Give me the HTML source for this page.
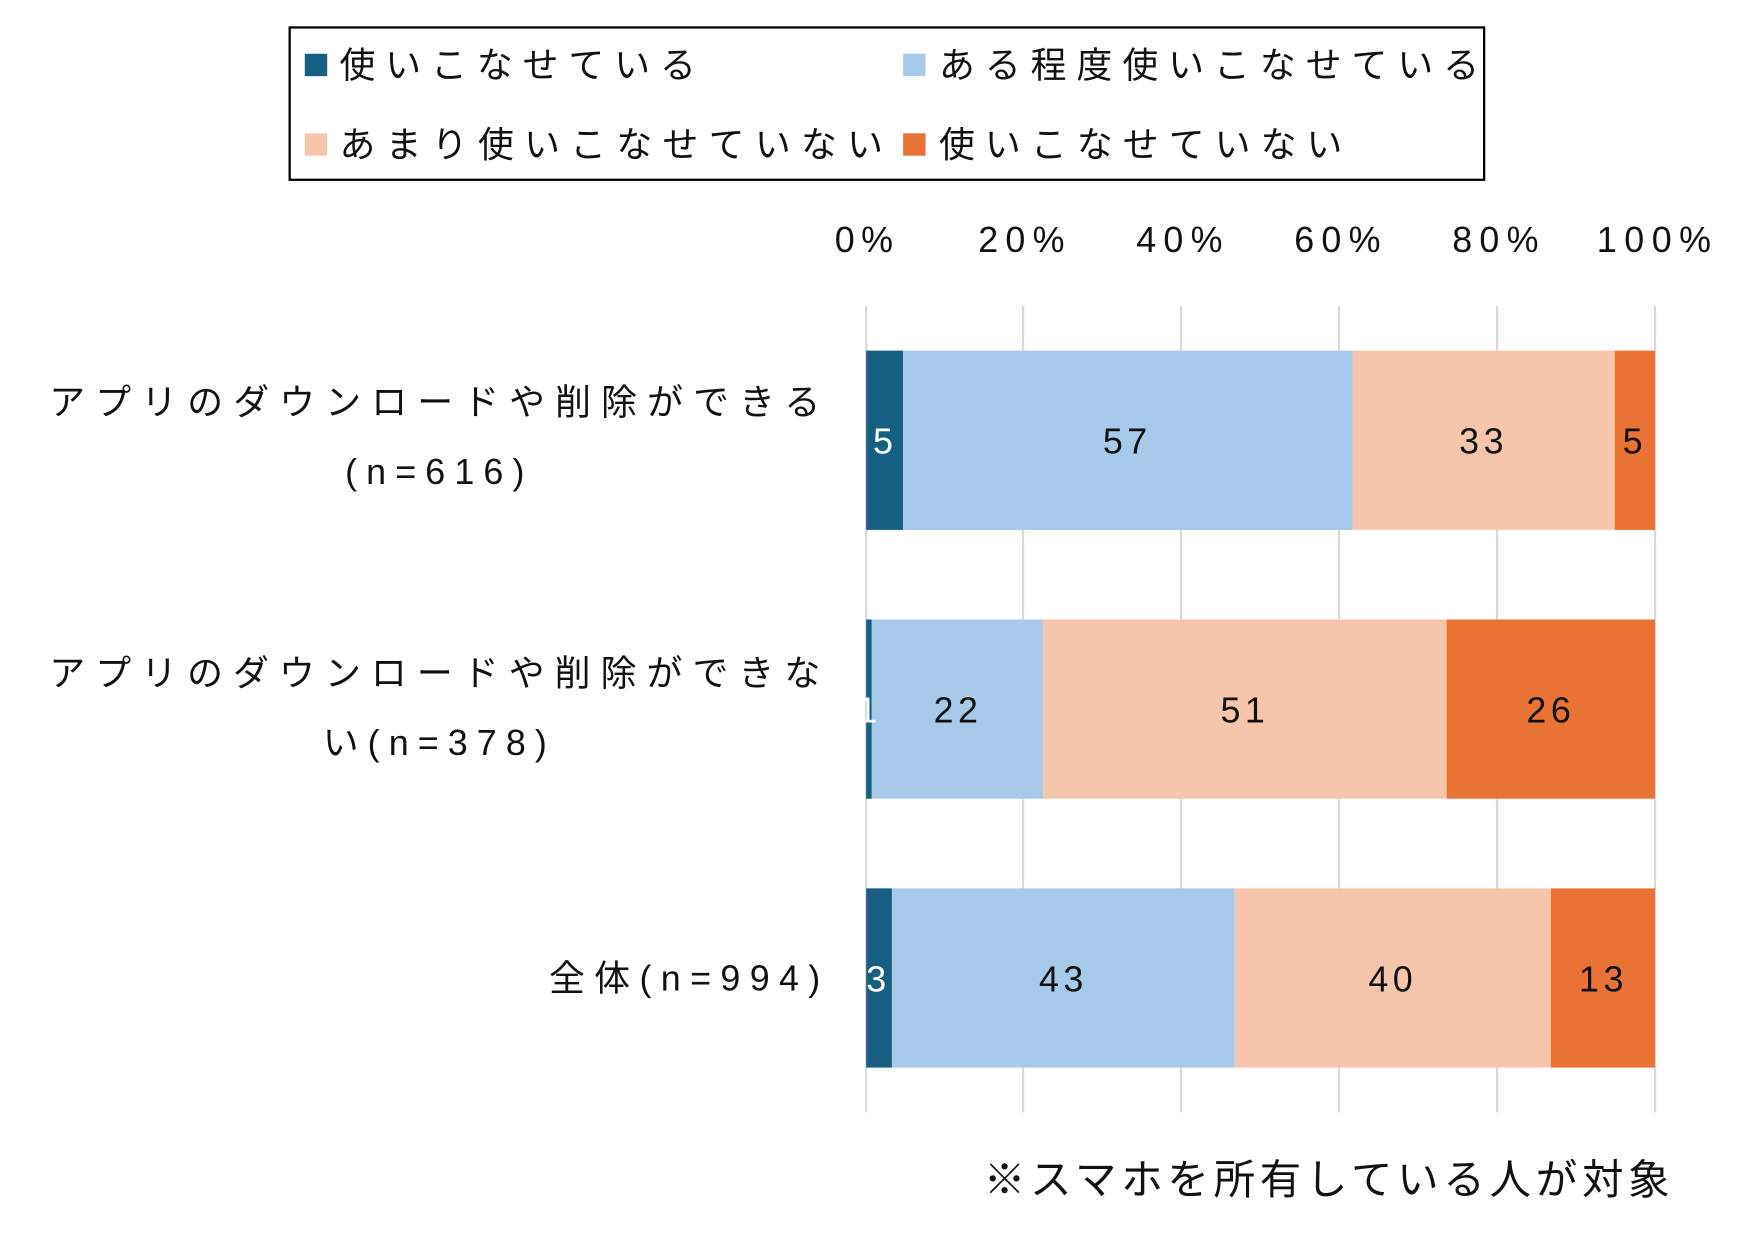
<!DOCTYPE html>
<html><head><meta charset="utf-8"><style>html,body{margin:0;padding:0;background:#fff}svg{display:block}text{font-family:"Liberation Sans","Noto Sans CJK JP",sans-serif;fill:#111}</style></head>
<body>
<svg width="1757" height="1239" viewBox="0 0 1568 1106" preserveAspectRatio="none" xmlns="http://www.w3.org/2000/svg">
<rect x="258.5" y="24.5" width="1066" height="136" fill="#fff" stroke="#000" stroke-width="2"/>
<rect x="272" y="48" width="20" height="20" fill="#175f82"/>
<text x="303" y="69" font-size="32" textLength="318" lengthAdjust="spacing">使いこなせている</text>
<rect x="806" y="48" width="20" height="20" fill="#a7caeb"/>
<text x="838" y="69" font-size="32" textLength="482" lengthAdjust="spacing">ある程度使いこなせている</text>
<rect x="272" y="119" width="20" height="20" fill="#f5c6ac"/>
<text x="303" y="140" font-size="32" textLength="485" lengthAdjust="spacing">あまり使いこなせていない</text>
<rect x="806" y="119" width="20" height="20" fill="#e87334"/>
<text x="838" y="140" font-size="32" textLength="360" lengthAdjust="spacing">使いこなせていない</text>
<g font-size="32">
<text x="745" y="225" textLength="52" lengthAdjust="spacing">0%</text>
<text x="873" y="225" textLength="77" lengthAdjust="spacing">20%</text>
<text x="1014" y="225" textLength="77" lengthAdjust="spacing">40%</text>
<text x="1155" y="225" textLength="77" lengthAdjust="spacing">60%</text>
<text x="1296" y="225" textLength="77" lengthAdjust="spacing">80%</text>
<text x="1425" y="225" textLength="102" lengthAdjust="spacing">100%</text>
</g>
<g stroke="#d9d9d9" stroke-width="2">
<line x1="773" y1="273" x2="773" y2="993"/><line x1="913" y1="273" x2="913" y2="993"/><line x1="1054" y1="273" x2="1054" y2="993"/><line x1="1195" y1="273" x2="1195" y2="993"/><line x1="1336" y1="273" x2="1336" y2="993"/><line x1="1477" y1="273" x2="1477" y2="993"/>
</g>
<rect x="773" y="313" width="33" height="160" fill="#175f82"/><rect x="806" y="313" width="401" height="160" fill="#a7caeb"/><rect x="1207" y="313" width="234" height="160" fill="#f5c6ac"/><rect x="1441" y="313" width="36" height="160" fill="#e87334"/>
<rect x="773" y="553" width="5" height="160" fill="#175f82"/><rect x="778" y="553" width="153" height="160" fill="#a7caeb"/><rect x="931" y="553" width="360" height="160" fill="#f5c6ac"/><rect x="1291" y="553" width="186" height="160" fill="#e87334"/>
<rect x="773" y="793" width="23" height="160" fill="#175f82"/><rect x="796" y="793" width="306" height="160" fill="#a7caeb"/><rect x="1102" y="793" width="282" height="160" fill="#f5c6ac"/><rect x="1384" y="793" width="93" height="160" fill="#e87334"/>
<g font-size="32" text-anchor="middle" letter-spacing="4">
<text x="790" y="405" style="fill:#fff">5</text><text x="1006" y="405">57</text><text x="1324" y="405">33</text><text x="1459" y="405">5</text>
<text x="776" y="645" style="fill:#fff">1</text><text x="855" y="645">22</text><text x="1111" y="645">51</text><text x="1384" y="645">26</text>
<text x="784" y="885" style="fill:#fff">3</text><text x="949" y="885">43</text><text x="1243" y="885">40</text><text x="1431" y="885">13</text>
</g>
<g font-size="32">
<text x="44" y="370" textLength="688" lengthAdjust="spacing">アプリのダウンロードや削除ができる</text>
<text x="308" y="432" textLength="160" lengthAdjust="spacing">(n=616)</text>
<text x="44" y="612" textLength="688" lengthAdjust="spacing">アプリのダウンロードや削除ができな</text>
<text x="288" y="674" textLength="200" lengthAdjust="spacing">い(n=378)</text>
<text x="490" y="884" textLength="242" lengthAdjust="spacing">全体(n=994)</text>
</g>
<text x="878" y="1066" font-size="37" textLength="612" lengthAdjust="spacing">※スマホを所有している人が対象</text>
</svg>
</body></html>
